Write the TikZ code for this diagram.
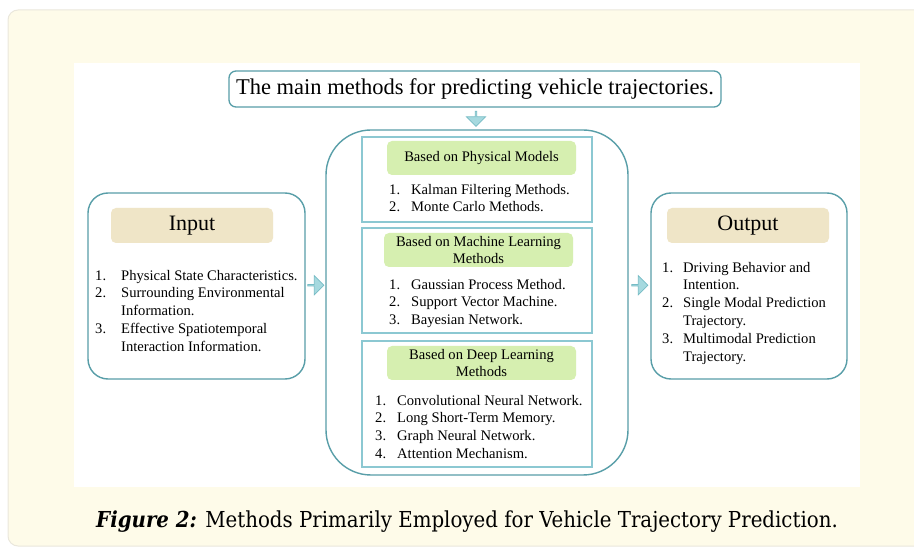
\documentclass[tikz,border=0pt]{standalone}
\usepackage{fontspec}
\setmainfont{Liberation Serif}
\newfontfamily\capfont{DejaVu Serif Condensed}
\usetikzlibrary{shapes.arrows,calc}

\definecolor{panelbg}{RGB}{254,251,233}
\definecolor{panelrim}{RGB}{234,231,220}
\definecolor{tealrim}{RGB}{88,158,168}
\definecolor{subrim}{RGB}{140,200,210}
\definecolor{tanfill}{RGB}{239,229,199}
\definecolor{greenfill}{RGB}{214,239,176}
\definecolor{arrowfill}{RGB}{166,217,223}
\definecolor{arrowrim}{RGB}{118,188,197}

\newcommand{\bodysize}{\fontsize{14.6}{17.8}\selectfont}
% numbered list: width of the number column, then the rows
\newcommand{\numlist}[2]{\begin{tabular}{@{}p{#1}@{}l@{}}#2\end{tabular}}

\tikzset{
  outerbox/.style={draw=tealrim, line width=1.4pt, rounded corners=20pt, inner sep=0pt},
  subbox/.style={draw=subrim, line width=1.3pt, inner sep=0pt},
  tanhead/.style={fill=tanfill, rounded corners=5pt, minimum width=162pt, minimum height=35pt,
    inner sep=0pt, font=\fontsize{22}{26}\selectfont},
  greenhead/.style={fill=greenfill, rounded corners=5pt, minimum width=189pt, minimum height=34pt,
    inner sep=0pt, align=center, font=\fontsize{14.6}{17.3}\selectfont},
  itemlist/.style={anchor=north west, inner sep=0pt, font=\bodysize},
  blockarrow/.style={single arrow, fill=arrowfill, draw=arrowrim, line width=.7pt, inner sep=0pt,
    minimum height=16pt, minimum width=19pt, single arrow head extend=4.5pt}
}

\begin{document}
\begin{tikzpicture}[x=1pt,y=-1pt]
 \clip (0,0) rectangle (914,548);
 % page panel and white figure area
 \fill[panelbg, draw=panelrim, line width=1pt, rounded corners=10pt] (8,10) rectangle (940,546);
 \fill[white] (74,63) rectangle (860,487);

 % title
 \node[draw=tealrim, line width=1.3pt, rounded corners=7pt, minimum width=492pt, minimum height=36pt,
   inner sep=0pt, font=\fontsize{22.5}{26}\selectfont] (title) at (475,89)
   {The main methods for predicting vehicle trajectories.};

 % outer frames
 \node[outerbox, minimum width=217pt, minimum height=186pt] (input) at (196.5,286) {};
 \node[outerbox, minimum width=196pt, minimum height=186pt] (output) at (749,286) {};
 \node[outerbox, rounded corners=45pt, minimum width=302pt, minimum height=345pt] (methods) at (477,302.5) {};

 % method groups
 \node[subbox, minimum width=230pt, minimum height=85pt] (phys) at (477,179.5) {};
 \node[subbox, minimum width=230pt, minimum height=105pt] (ml) at (477,280.5) {};
 \node[subbox, minimum width=230pt, minimum height=126pt] (dl) at (477,404) {};

 % headers
 \node[tanhead] (inhead) at (192,225.5) {Input};
 \node[tanhead] (outhead) at (748,225.5) {Output};
 \node[greenhead] (physhead) at (481.5,158) {Based on Physical Models};
 \node[greenhead] (mlhead) at (478.5,250) {Based on Machine Learning\\Methods};
 \node[greenhead] (dlhead) at (481.5,363) {Based on Deep Learning\\Methods};

 % lists
 \node[itemlist] (inlist) at (95,267.5) {\numlist{26pt}{
   1. & Physical State Characteristics.\\
   2. & Surrounding Environmental\\
      & Information.\\
   3. & Effective Spatiotemporal\\
      & Interaction Information.}};
 \node[itemlist] (outlist) at (662,259.5) {\numlist{21pt}{
   1. & Driving Behavior and\\
      & Intention.\\
   2. & Single Modal Prediction\\
      & Trajectory.\\
   3. & Multimodal Prediction\\
      & Trajectory.}};
 \node[itemlist] (physlist) at (389,181.5) {\numlist{22pt}{
   1. & Kalman Filtering Methods.\\
   2. & Monte Carlo Methods.}};
 \node[itemlist] (mllist) at (389,276.5) {\numlist{22pt}{
   1. & Gaussian Process Method.\\
   2. & Support Vector Machine.\\
   3. & Bayesian Network.}};
 \node[itemlist] (dllist) at (375,392.5) {\numlist{22pt}{
   1. & Convolutional Neural Network.\\
   2. & Long Short-Term Memory.\\
   3. & Graph Neural Network.\\
   4. & Attention Mechanism.}};

 % block arrows
 \node[blockarrow, minimum height=15pt, shape border rotate=270] (down) at ($(title.south)!.5!(methods.north)$) {};
 \node[blockarrow] (toright) at ($(input.east)!.5!(methods.west)+(0,-9)$) {};
 \node[blockarrow] (toout) at ($(methods.east)!.5!(output.west)+(0,-9)$) {};

 % caption
 \node[font=\capfont\fontsize{22}{26}\selectfont] (caption) at (467,522)
   {\textbf{\textit{Figure 2:}} Methods Primarily Employed for Vehicle Trajectory Prediction.};
\end{tikzpicture}
\end{document}
